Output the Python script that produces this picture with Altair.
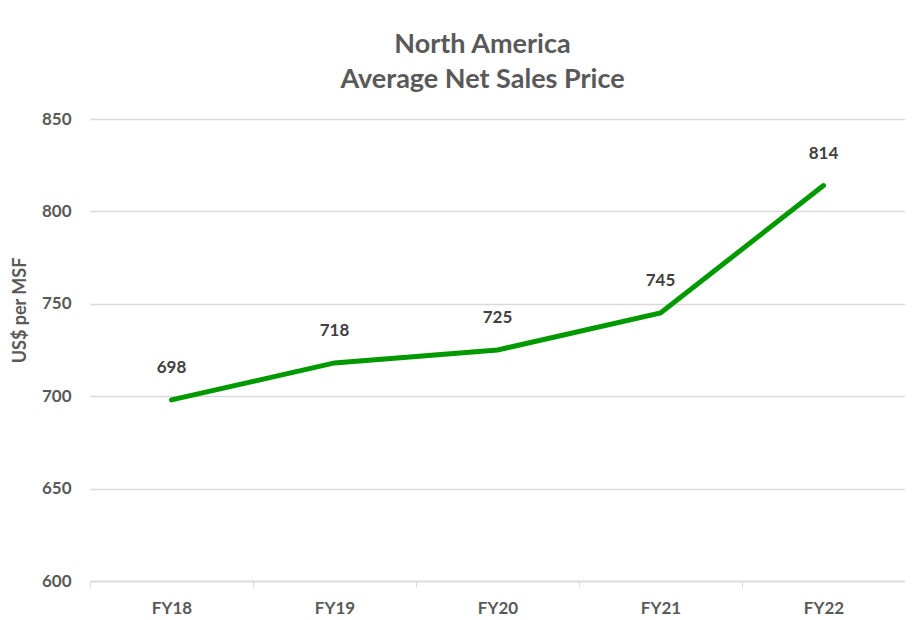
import altair as alt
import pandas as pd

years = ["FY18", "FY19", "FY20", "FY21", "FY22"]
prices = [698, 718, 725, 745, 814]

df = pd.DataFrame({"year": years, "price": prices})

FONT = "Lato"
GRAY = "#595959"

x = alt.X("year:N", sort=years, title=None,
          scale=alt.Scale(paddingInner=0, paddingOuter=0),
          axis=alt.Axis(tickBand="extent", labelAngle=0, labelFont=FONT, labelFontSize=17,
                        labelFontWeight="bold", labelColor=GRAY, labelPadding=13,
                        domainColor="#d9d9d9", domainWidth=1.5, tickColor="#d9d9d9",
                        tickSize=6, grid=False))
y = alt.Y("price:Q", title="US$ per MSF",
          scale=alt.Scale(domain=[600, 850], nice=False, zero=False),
          axis=alt.Axis(values=[600, 650, 700, 750, 800, 850], ticks=False, domain=False,
                        gridColor="#d9d9d9", gridWidth=1.5, labelFont=FONT, labelFontSize=17,
                        labelFontWeight="bold", labelColor=GRAY, labelPadding=19,
                        titleFont=FONT, titleFontSize=18, titleFontWeight="bold",
                        titleColor=GRAY, titleX=-70, titleY=191, titleAngle=-90,
                        titleAlign="center", titleBaseline="middle"))

base = alt.Chart(df).encode(x=x, y=y)
line = base.mark_line(color="#009900", strokeWidth=5, strokeCap="round")
labels = base.mark_text(dy=-32, font=FONT, fontSize=17, fontWeight="bold",
                        color="#404040").encode(text="price:Q")

chart = (line + labels).properties(
    width=815, height=462,
    padding={"left": 82, "top": 111, "right": 0, "bottom": 36},
    autosize=alt.AutoSizeParams(type="none"),
    title=alt.TitleParams(["North America", "Average Net Sales Price"], font=FONT,
                          fontSize=27, fontWeight="bold", color=GRAY, lineHeight=35,
                          anchor="middle", frame="group", dx=-15, offset=16),
).configure_view(stroke=None)

chart.save("out.html", embed_options={"renderer": "svg", "actions": False})
